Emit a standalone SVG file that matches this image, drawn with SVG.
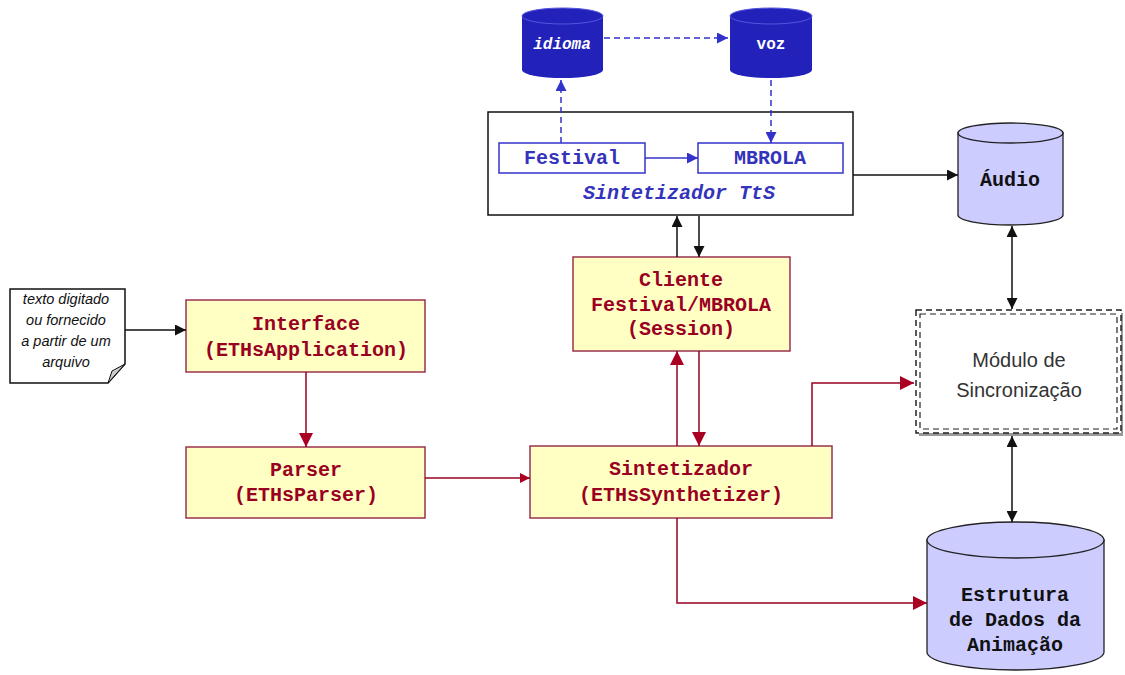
<svg xmlns="http://www.w3.org/2000/svg" width="1125" height="675" viewBox="0 0 1125 675">
  <style>
    .box { fill: #ffffc4; stroke: #99334d; stroke-width: 1.5; }
    .boxtxt { font-family: "Liberation Mono", "DejaVu Sans Mono", monospace; font-weight: bold; font-size: 20px; fill: #990022; text-anchor: middle; }
    .bluetxt { font-family: "Liberation Mono", "DejaVu Sans Mono", monospace; font-weight: bold; font-size: 20px; fill: #3333bb; text-anchor: middle; }
    .dbtxt { font-family: "Liberation Mono", "DejaVu Sans Mono", monospace; font-weight: bold; font-size: 20px; fill: #111111; text-anchor: middle; }
    .cyltxt { font-family: "Liberation Mono", "DejaVu Sans Mono", monospace; font-weight: bold; font-size: 16px; fill: #ffffff; text-anchor: middle; }
    .note { font-family: "Liberation Sans", Arial, sans-serif; font-style: italic; font-size: 14.5px; fill: #111111; text-anchor: middle; }
    .sync { font-family: "Liberation Sans", Arial, sans-serif; font-size: 20px; fill: #333333; text-anchor: middle; }
    .red { stroke: #990022; stroke-width: 1.5; fill: none; }
    .blk { stroke: #111111; stroke-width: 1.5; fill: none; }
    .bluedash { stroke: #3333cc; stroke-width: 1.5; fill: none; stroke-dasharray: 6 4; }
    .bluesolid { stroke: #3333cc; stroke-width: 1.5; fill: none; }
  </style>
  <defs>
    <marker id="ahRed" viewBox="0 0 10 10" refX="10" refY="5" markerWidth="10" markerHeight="10" markerUnits="userSpaceOnUse" orient="auto-start-reverse">
      <path d="M0,0 L10,5 L0,10 z" fill="#aa0022"/>
    </marker>
    <marker id="ahRedBig" viewBox="0 0 10 10" refX="10" refY="5" markerWidth="14" markerHeight="14" markerUnits="userSpaceOnUse" orient="auto-start-reverse">
      <path d="M0,0 L10,5 L0,10 z" fill="#aa0022"/>
    </marker>
    <marker id="ahBlk" viewBox="0 0 10 10" refX="10" refY="5" markerWidth="11" markerHeight="11" markerUnits="userSpaceOnUse" orient="auto-start-reverse">
      <path d="M0,0 L10,5 L0,10 z" fill="#111111"/>
    </marker>
    <marker id="ahBlue" viewBox="0 0 10 10" refX="10" refY="5" markerWidth="11" markerHeight="11" markerUnits="userSpaceOnUse" orient="auto-start-reverse">
      <path d="M0,0 L10,5 L0,10 z" fill="#3333cc"/>
    </marker>
  </defs>

  <rect width="1125" height="675" fill="#ffffff"/>

  <!-- input note -->
  <g id="note">
    <path d="M10,289 H125 V364 L108,383 H10 Z" fill="#ffffff" stroke="#111111" stroke-width="1.5"/>
    <path d="M108,383 L112,371 L125,364 Z" fill="#cccccc" stroke="#111111" stroke-width="1"/>
    <text class="note" x="66" y="304">texto digitado</text>
    <text class="note" x="66" y="325">ou fornecido</text>
    <text class="note" x="66" y="346">a partir de um</text>
    <text class="note" x="66" y="367">arquivo</text>
  </g>

  <g id="interface">
    <rect x="186" y="300" width="239" height="72" class="box"/>
    <text class="boxtxt" x="306" y="330">Interface</text>
    <text class="boxtxt" x="306" y="356">(ETHsApplication)</text>
  </g>

  <g id="parser">
    <rect x="186" y="447" width="239" height="71" class="box"/>
    <text class="boxtxt" x="306" y="476">Parser</text>
    <text class="boxtxt" x="306" y="501">(ETHsParser)</text>
  </g>

  <g id="sintetizador">
    <rect x="530" y="446" width="302" height="72" class="box"/>
    <text class="boxtxt" x="681" y="475">Sintetizador</text>
    <text class="boxtxt" x="681" y="501">(ETHsSynthetizer)</text>
  </g>

  <g id="cliente">
    <rect x="573" y="257" width="217" height="94" class="box"/>
    <text class="boxtxt" x="681" y="286">Cliente</text>
    <text class="boxtxt" x="681" y="311">Festival/MBROLA</text>
    <text class="boxtxt" x="681" y="335">(Session)</text>
  </g>

  <g id="tts">
    <rect x="488" y="112" width="365" height="103" fill="#ffffff" stroke="#111111" stroke-width="1.5"/>
    <text class="bluetxt" x="679" y="199" font-style="italic">Sintetizador TtS</text>
  </g>

  <g id="festival">
    <rect x="499" y="143" width="146" height="30" fill="#ffffff" stroke="#3333cc" stroke-width="1.5"/>
    <text class="bluetxt" x="572" y="164">Festival</text>
  </g>

  <g id="mbrola">
    <rect x="698" y="143" width="145" height="30" fill="#ffffff" stroke="#3333cc" stroke-width="1.5"/>
    <text class="bluetxt" x="770" y="164">MBROLA</text>
  </g>

  <g id="idioma">
    <path d="M522,16 V70 A40.5,8 0 0 0 603,70 V16 Z" fill="#2222bb"/>
    <ellipse cx="562.5" cy="16" rx="40.5" ry="8" fill="#2222bb" stroke="#5555dd" stroke-width="1"/>
    <text class="cyltxt" x="562" y="49" font-style="italic">idioma</text>
  </g>

  <g id="voz">
    <path d="M730,16 V70 A41,8 0 0 0 812,70 V16 Z" fill="#2222bb"/>
    <ellipse cx="771" cy="16" rx="41" ry="8" fill="#2222bb" stroke="#5555dd" stroke-width="1"/>
    <text class="cyltxt" x="771" y="49">voz</text>
  </g>

  <g id="audio">
    <path d="M958,133 V215 A52.5,10 0 0 0 1063,215 V133 Z" fill="#ccccff" stroke="#222222" stroke-width="1.3"/>
    <ellipse cx="1010.5" cy="133" rx="52.5" ry="10" fill="#ccccff" stroke="#222222" stroke-width="1.3"/>
    <text class="dbtxt" x="1010" y="186">Áudio</text>
  </g>

  <g id="sincronizacao">
    <rect x="919" y="313" width="204" height="123" fill="#999999"/>
    <rect x="916" y="310" width="205" height="123" fill="#ffffff" stroke="#222222" stroke-width="1.5" stroke-dasharray="6 4"/>
    <rect x="920" y="314" width="197" height="115" fill="none" stroke="#222222" stroke-width="1.2" stroke-dasharray="6 4"/>
    <text class="sync" x="1019" y="367">Módulo de</text>
    <text class="sync" x="1019" y="397">Sincronização</text>
  </g>

  <g id="estrutura">
    <path d="M927,540 V652 A88.5,18 0 0 0 1104,652 V540 Z" fill="#ccccff" stroke="#222222" stroke-width="1.3"/>
    <ellipse cx="1015.5" cy="540" rx="88.5" ry="18" fill="#ccccff" stroke="#222222" stroke-width="1.3"/>
    <text class="dbtxt" x="1015" y="601">Estrutura</text>
    <text class="dbtxt" x="1015" y="626">de Dados da</text>
    <text class="dbtxt" x="1015" y="651">Animação</text>
  </g>

  <!-- connectors -->
  <g id="connectors">
    <!-- input note to Interface -->
    <line x1="125" y1="330" x2="186" y2="330" class="blk" marker-end="url(#ahBlk)"/>
    <!-- Interface to Parser -->
    <line x1="306" y1="372" x2="306" y2="447" class="red" marker-end="url(#ahRedBig)"/>
    <!-- Parser to Sintetizador -->
    <line x1="425" y1="478" x2="530" y2="478" class="red" marker-end="url(#ahRed)"/>
    <!-- Sintetizador <-> Cliente -->
    <line x1="677" y1="446" x2="677" y2="351" class="red" marker-end="url(#ahRedBig)"/>
    <line x1="699" y1="351" x2="699" y2="446" class="red" marker-end="url(#ahRedBig)"/>
    <!-- Cliente <-> TtS -->
    <line x1="677" y1="257" x2="677" y2="216" class="blk" marker-end="url(#ahBlk)"/>
    <line x1="699" y1="216" x2="699" y2="257" class="blk" marker-end="url(#ahBlk)"/>
    <!-- Sintetizador to Sync -->
    <polyline points="812,446 812,383 914,383" class="red" marker-end="url(#ahRedBig)"/>
    <!-- Sintetizador to Estrutura -->
    <polyline points="677,518 677,603 927,603" class="red" marker-end="url(#ahRedBig)"/>
    <!-- TtS to Audio -->
    <line x1="853" y1="175" x2="958" y2="175" class="blk" marker-end="url(#ahBlk)"/>
    <!-- Audio <-> Sync -->
    <line x1="1012" y1="226" x2="1012" y2="309" class="blk" marker-start="url(#ahBlk)" marker-end="url(#ahBlk)"/>
    <!-- Sync <-> Estrutura -->
    <line x1="1012" y1="436" x2="1012" y2="522" class="blk" marker-start="url(#ahBlk)" marker-end="url(#ahBlk)"/>
    <!-- inside TtS -->
    <line x1="561" y1="143" x2="561" y2="80" class="bluedash" marker-end="url(#ahBlue)"/>
    <line x1="604" y1="38" x2="728" y2="38" class="bluedash" marker-end="url(#ahBlue)"/>
    <line x1="771" y1="80" x2="771" y2="143" class="bluedash" marker-end="url(#ahBlue)"/>
    <line x1="645" y1="158" x2="698" y2="158" class="bluesolid" marker-end="url(#ahBlue)"/>
  </g>
</svg>
